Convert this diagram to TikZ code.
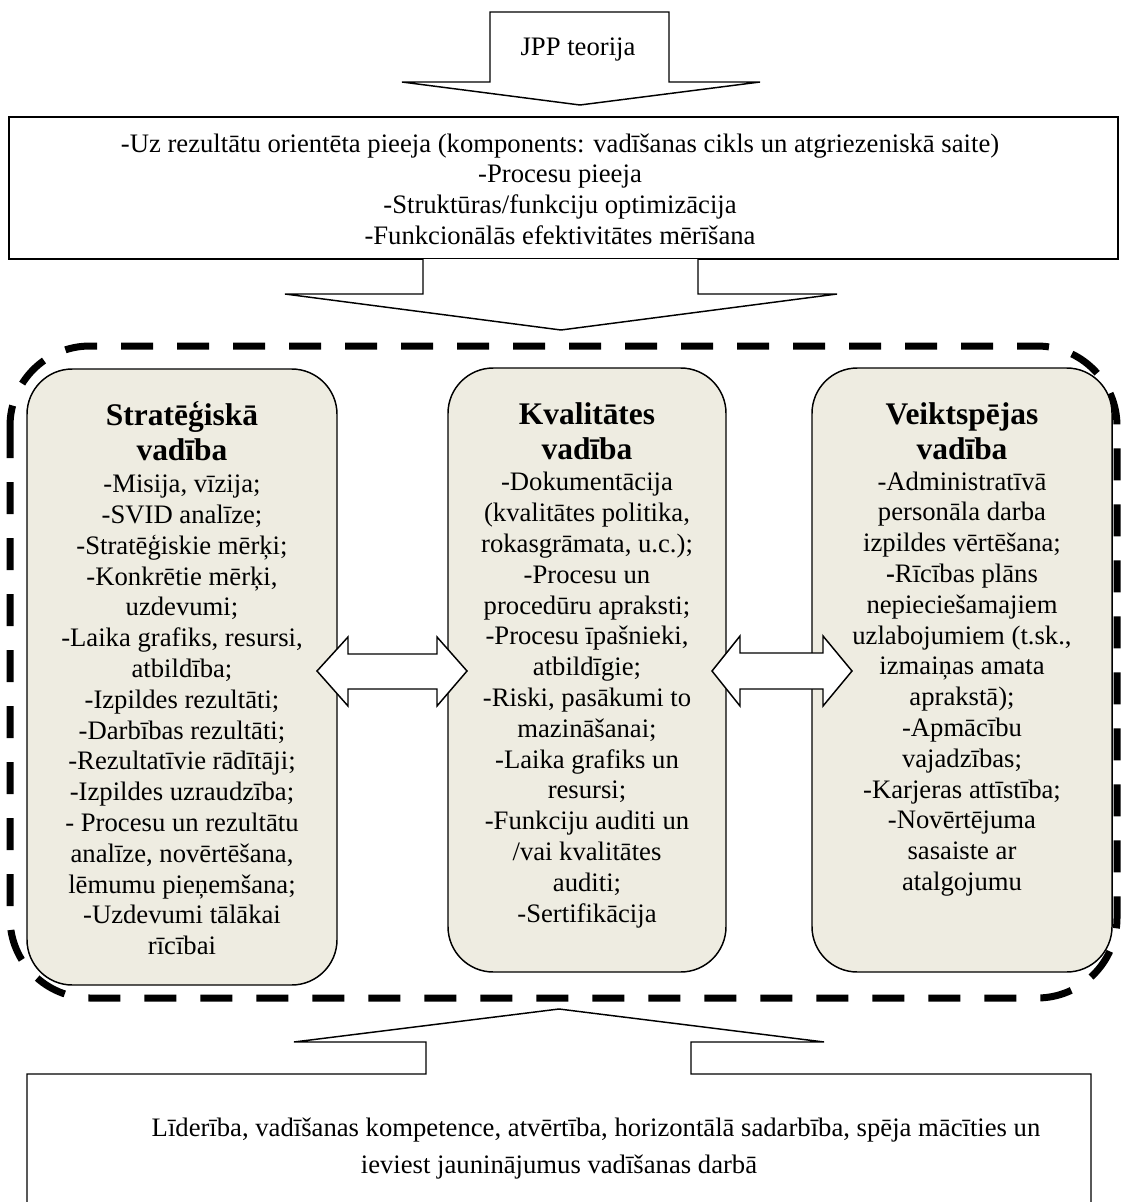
\documentclass[tikz,border=0pt]{standalone}
\usepackage{fontspec}
\setmainfont{Liberation Serif}
\definecolor{panelfill}{HTML}{EEECE1}
\begin{document}
\begin{tikzpicture}[x=0.75pt,y=-0.75pt,
  outline/.style={draw=black,line width=1.1pt,line join=miter,fill=white},
  panel/.style={draw=black,line width=1.1pt,fill=panelfill,rounded corners=34pt},
  frame/.style={draw=black,line width=5.25pt,dash pattern=on 24pt off 18pt,rounded corners=60pt},
  bodytext/.style={align=center,inner sep=0pt,font=\fontsize{20}{23.1}\selectfont},
  headtext/.style={align=center,inner sep=0pt,font=\fontsize{23.6}{26.3}\selectfont\bfseries},
  boxtext/.style={align=center,inner sep=0pt,font=\fontsize{20}{23}\selectfont}]
\useasboundingbox (0,0) rectangle (1123,1202);

% theory arrow at the top
\draw[outline] (490,12) -- (669,12) -- (669,82) -- (760,82) -- (580,105)
  -- (402,82) -- (490,82) -- cycle;
\node[boxtext] (jpp) at (578,50) {JPP teorija};

% approaches box with the arrow leading down
\draw[outline] (9,117) rectangle (1118,259);
\node[boxtext] (approach) at (560,189) {-Uz rezultātu orientēta pieeja (komponents: vadīšanas cikls un atgriezeniskā saite)\\
  -Procesu pieeja\\ -Struktūras/funkciju optimizācija\\ -Funkcionālās efektivitātes mērīšana};
\draw[outline] (423,259) -- (423,294) -- (285,294) -- (561,330) -- (837,294)
  -- (698,294) -- (698,259);

% dashed frame round the three management areas
\draw[frame] (10,346) rectangle (1117,998);

% the three panels
\draw[panel] (27,369) rectangle (337,985);
\draw[panel] (448,368) rectangle (726,972);
\draw[panel] (812,368) rectangle (1112,972);

\node[headtext] (h1) at (182,431) {Stratēģiskā\\vadība};
\node[headtext] (h2) at (587,431) {Kvalitātes\\vadība};
\node[headtext] (h3) at (962,431) {Veiktspējas\\vadība};

\node[bodytext] (b1) at (182,715) {-Misija, vīzija;\\ -SVID analīze;\\ -Stratēģiskie mērķi;\\
  -Konkrētie mērķi,\\ uzdevumi;\\ -Laika grafiks, resursi,\\ atbildība;\\
  -Izpildes rezultāti;\\ -Darbības rezultāti;\\ -Rezultatīvie rādītāji;\\
  -Izpildes uzraudzība;\\ - Procesu un rezultātu\\ analīze, novērtēšana,\\
  lēmumu pieņemšana;\\ -Uzdevumi tālākai\\ rīcībai};
\node[bodytext] (b2) at (587,700) {-Dokumentācija\\ (kvalitātes politika,\\ rokasgrāmata, u.c.);\\
  -Procesu un\\ procedūru apraksti;\\ -Procesu īpašnieki,\\ atbildīgie;\\
  -Riski, pasākumi to\\ mazināšanai;\\ -Laika grafiks un\\ resursi;\\
  -Funkciju auditi un\\ /vai kvalitātes\\ auditi;\\ -Sertifikācija};
\node[bodytext] (b3) at (962,684) {-Administratīvā\\ personāla darba\\ izpildes vērtēšana;\\
  \textbf{-}Rīcības plāns\\ nepieciešamajiem\\ uzlabojumiem (t.sk.,\\ izmaiņas amata\\
  aprakstā);\\ -Apmācību\\ vajadzības;\\ -Karjeras attīstība;\\ -Novērtējuma\\
  sasaiste ar\\ atalgojumu};

% two-way links between the panels
\draw[outline] (317,671) -- (348,637) -- (348,654) -- (437,654) -- (437,637)
  -- (467,671) -- (437,706) -- (437,689) -- (348,689) -- (348,706) -- cycle;
\draw[outline] (712,671) -- (740,636) -- (740,653) -- (823,653) -- (823,636)
  -- (852,671) -- (823,706) -- (823,689) -- (740,689) -- (740,706) -- cycle;

% leadership box with the arrow leading up
\draw[outline] (27,1215) -- (27,1074) -- (426,1074) -- (426,1042) -- (294,1042)
  -- (559,1009) -- (824,1042) -- (691,1042) -- (691,1074) -- (1091,1074) -- (1091,1215);
\node[align=center,inner sep=0pt,font=\fontsize{20}{27.75}\selectfont] (lead) at (559,1149)
  {\hspace*{55.5pt}Līderība, vadīšanas kompetence, atvērtība, horizontālā sadarbība, spēja mācīties un\\
   ieviest jauninājumus vadīšanas darbā};
\end{tikzpicture}
\end{document}
